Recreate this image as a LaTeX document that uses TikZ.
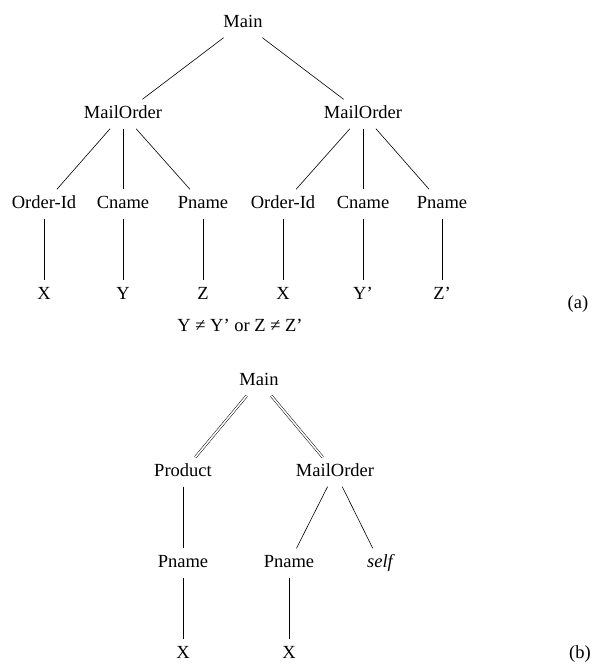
\documentclass[tikz,border=0pt]{standalone}
\usepackage{fontspec}
\setmainfont{Liberation Serif}
\begin{document}
\begin{tikzpicture}[x=1pt,y=-1pt,
   every node/.style={font=\fontsize{18.5}{22}\selectfont,text height=13pt,text depth=4pt,inner sep=6pt},
   edge/.style={line width=0.6pt},
   dbl/.style={double,double distance=1.6pt,line width=0.5pt}]
   \useasboundingbox (0,0) rectangle (595,669);

   % (a)
   \node (ma) at (243,23) {Main};
   \node (mo1) at (123,114) {MailOrder};
   \node (mo2) at (363,114) {MailOrder};
   \node (oid1) at (44,204) {Order-Id};
   \node (cn1) at (123,204) {Cname};
   \node (pn1) at (203,204) {Pname};
   \node (oid2) at (283,204) {Order-Id};
   \node (cn2) at (363,204) {Cname};
   \node (pn2) at (442,204) {Pname};
   \node (x1) at (44,295) {X};
   \node (y1) at (123,295) {Y};
   \node (z1) at (203,295) {Z};
   \node (x2) at (283,295) {X};
   \node (y2) at (363,295) {Y'};
   \node (z2) at (442,295) {Z'};
   \node (la) at (578,304) {(a)};
   \node (cond) at (240,327) {Y ≠ Y' or Z ≠ Z'};

   \draw[edge] (ma)--(mo1);
   \draw[edge] (ma)--(mo2);
   \draw[edge] (mo1)--(oid1);
   \draw[edge] (mo1)--(cn1);
   \draw[edge] (mo1)--(pn1);
   \draw[edge] (mo2)--(oid2);
   \draw[edge] (mo2)--(cn2);
   \draw[edge] (mo2)--(pn2);
   \draw[edge] (oid1)--(x1);
   \draw[edge] (cn1)--(y1);
   \draw[edge] (pn1)--(z1);
   \draw[edge] (oid2)--(x2);
   \draw[edge] (cn2)--(y2);
   \draw[edge] (pn2)--(z2);

   % (b)
   \node (mb) at (259,381) {Main};
   \node (pr) at (183,472) {Product};
   \node (mo3) at (335,472) {MailOrder};
   \node (pn3) at (183,563) {Pname};
   \node (pn4) at (289,563) {Pname};
   \node (sf) at (380,563) {\itshape self};
   \node (x3) at (183,654) {X};
   \node (x4) at (289,654) {X};
   \node (lb) at (580,654) {(b)};

   \draw[dbl] (mb)--(pr);
   \draw[dbl] (mb)--(mo3);
   \draw[edge] (pr)--(pn3);
   \draw[edge] (mo3)--(pn4);
   \draw[edge] (mo3)--(sf);
   \draw[edge] (pn3)--(x3);
   \draw[edge] (pn4)--(x4);

\end{tikzpicture}
\end{document}
